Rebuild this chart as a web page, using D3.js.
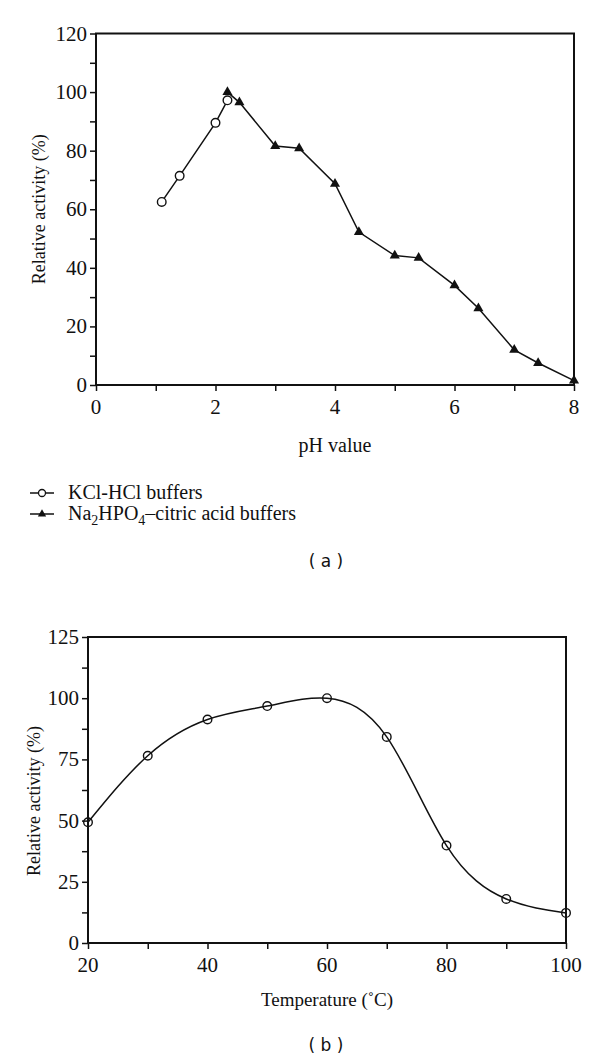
<!DOCTYPE html>
<html>
<head>
<meta charset="utf-8">
<title>Relative activity vs pH and temperature</title>
<script src="https://cdn.jsdelivr.net/npm/d3@7"></script>
<style>
  body { margin: 0; background: #fff; }
</style>
</head>
<body>
<div id="container"></div>
<script>
// panel (a): pH profile
const kclPH = [1.1, 1.4, 2.0, 2.2];
const kclAct = [62.5, 71.4, 89.5, 97.2];
const naPH = [2.2, 2.4, 3.0, 3.4, 4.0, 4.4, 5.0, 5.4, 6.0, 6.4, 7.0, 7.4, 8.0];
const naAct = [100, 96.5, 81.6, 80.8, 68.7, 52.2, 44.2, 43.4, 34, 26.2, 12, 7.5, 1.5];
const phTicks = [0, 2, 4, 6, 8];
const actTicksA = [0, 20, 40, 60, 80, 100, 120];

// panel (b): temperature profile
const temps = [20, 30, 40, 50, 60, 70, 80, 90, 100];
const tempAct = [49.3, 76.5, 91.3, 96.8, 100, 84.2, 39.8, 18, 12.3];
const tempTicks = [20, 40, 60, 80, 100];
const actTicksB = [0, 25, 50, 75, 100, 125];

const W = 600, H = 1061;
const SERIF = "Liberation Serif";
const SANS = "DejaVu Sans";
const ink = "#111";

const svg = d3.select("#container")
    .append("svg")
    .attr("width", W)
    .attr("height", H);

function label(g, x, y, txt, size, anchor) {
    return g.append("text")
        .attr("x", x).attr("y", y)
        .attr("font-family", SERIF)
        .attr("font-size", size)
        .attr("fill", ink)
        .attr("text-anchor", anchor || "middle")
        .text(txt);
}

// framed plot with outward ticks on left and bottom
function frame(g, x, y, xMajor, xMinor, yMajor, yMinor) {
    const [x0, x1] = x.range();
    const [y0, y1] = y.range();

    g.append("g")
        .attr("transform", `translate(0,${y0})`)
        .call(d3.axisBottom(x).tickValues(xMajor.concat(xMinor)).tickSize(6).tickFormat(""))
        .call(a => a.select(".domain").remove())
        .selectAll("line").attr("stroke", ink).attr("stroke-width", 1.5);
    g.append("g")
        .attr("transform", `translate(${x0},0)`)
        .call(d3.axisLeft(y).tickValues(yMajor.concat(yMinor)).tickSize(6).tickFormat(""))
        .call(a => a.select(".domain").remove())
        .selectAll("line").attr("stroke", ink).attr("stroke-width", 1.5);

    // tick labels, placed with the scales
    xMajor.forEach(v => label(g, x(v), y0 + 29, String(v), 21));
    yMajor.forEach(v => label(g, x0 - 9, y(v) + 7, String(v), 21, "end"));

    g.append("rect")
        .attr("x", x0).attr("y", y1)
        .attr("width", x1 - x0).attr("height", y0 - y1)
        .attr("fill", "none")
        .attr("stroke", ink)
        .attr("stroke-width", 2);
}

/// panel (a)
const gA = svg.append("g");
const xA = d3.scaleLinear().domain([0, 8]).range([96, 574]);
const yA = d3.scaleLinear().domain([0, 120]).range([385, 33.5]);
frame(gA, xA, yA, phTicks, [1, 3, 5, 7], actTicksA, d3.range(10, 120, 20));

const kcl = kclPH.map((p, i) => [xA(p), yA(kclAct[i])]);
const na = naPH.map((p, i) => [xA(p), yA(naAct[i])]);

gA.append("path")
    .attr("d", d3.line()(kcl))
    .attr("fill", "none").attr("stroke", ink).attr("stroke-width", 1.5);
gA.append("path")
    .attr("d", d3.line()(na))
    .attr("fill", "none").attr("stroke", ink).attr("stroke-width", 1.5);

gA.selectAll("circle.kcl")
    .data(kcl)
    .join("circle")
    .attr("class", "kcl")
    .attr("cx", d => d[0]).attr("cy", d => d[1])
    .attr("r", 4.3)
    .attr("fill", "#fff").attr("stroke", ink).attr("stroke-width", 1.4);

gA.selectAll("path.na")
    .data(na)
    .join("path")
    .attr("class", "na")
    .attr("d", d3.symbol().type(d3.symbolTriangle).size(44))
    .attr("transform", d => `translate(${d[0]},${d[1]})`)
    .attr("fill", ink);

label(gA, (xA.range()[0] + xA.range()[1]) / 2, 452, "pH value", 20);
label(gA, 0, 0, "Relative activity (%)", 18)
    .attr("transform", `translate(45,${yA(60)}) rotate(-90)`);

// legend
const leg = gA.append("g");
[493, 514].forEach((ly, i) => {
    leg.append("line")
        .attr("x1", 30).attr("x2", 54)
        .attr("y1", ly).attr("y2", ly)
        .attr("stroke", ink).attr("stroke-width", 1.5);
    if (i === 0) {
        leg.append("circle")
            .attr("cx", 42).attr("cy", ly).attr("r", 3.5)
            .attr("fill", "#fff").attr("stroke", ink).attr("stroke-width", 1.3);
    } else {
        leg.append("path")
            .attr("d", d3.symbol().type(d3.symbolTriangle).size(30))
            .attr("transform", `translate(42,${ly})`)
            .attr("fill", ink);
    }
});
label(leg, 68, 499, "KCl-HCl buffers", 20, "start");
const naText = label(leg, 68, 520, "", 20, "start");
naText.append("tspan").text("Na");
naText.append("tspan").attr("dy", 5).attr("font-size", 14).text("2");
naText.append("tspan").attr("dy", -5).text("HPO");
naText.append("tspan").attr("dy", 5).attr("font-size", 14).text("4");
naText.append("tspan").attr("dy", -5).text("\u2013citric acid buffers");

label(svg, 326, 567, "( a )", 17).attr("font-family", SANS);

/// panel (b)
const gB = svg.append("g");
const xB = d3.scaleLinear().domain([20, 100]).range([88, 566]);
const yB = d3.scaleLinear().domain([0, 125]).range([943, 637]);
frame(gB, xB, yB, tempTicks, [30, 50, 70, 90], actTicksB, [12.5, 37.5, 62.5, 87.5, 112.5]);

const temp = temps.map((t, i) => [xB(t), yB(tempAct[i])]);

gB.append("path")
    .attr("d", d3.line().curve(d3.curveNatural)(temp))
    .attr("fill", "none").attr("stroke", ink).attr("stroke-width", 1.5);

gB.selectAll("circle.t")
    .data(temp)
    .join("circle")
    .attr("class", "t")
    .attr("cx", d => d[0]).attr("cy", d => d[1])
    .attr("r", 4.3)
    .attr("fill", "none").attr("stroke", ink).attr("stroke-width", 1.4);

label(gB, (xB.range()[0] + xB.range()[1]) / 2, 1006, "Temperature (\u02DAC)", 19);
label(gB, 0, 0, "Relative activity (%)", 18)
    .attr("transform", `translate(40,${yB(58)}) rotate(-90)`);

label(svg, 326, 1051, "( b )", 17).attr("font-family", SANS);
</script>
</body>
</html>
